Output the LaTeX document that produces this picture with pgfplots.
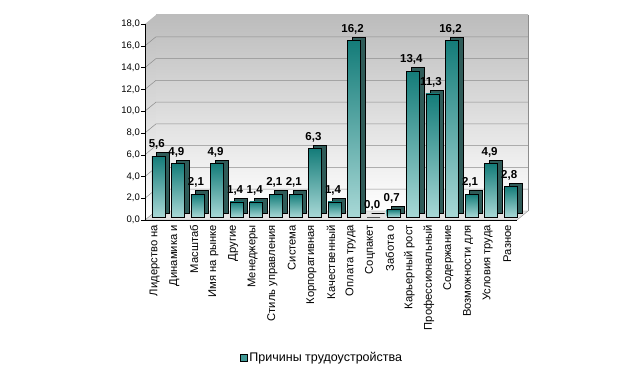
\documentclass[border=0pt]{standalone}
\usepackage{fontspec}
\setmainfont{Liberation Sans}
\usepackage{pgfplots}
\pgfplotsset{compat=1.18}
\definecolor{facetop}{HTML}{147C79}
\definecolor{facebot}{HTML}{A8D8D6}
\definecolor{side}{HTML}{2F5B58}
\definecolor{walltop}{HTML}{BCBCBC}
\definecolor{gridc}{HTML}{8C8C8C}
\definecolor{floorc}{HTML}{E4E4E4}
\begin{document}
\begin{tikzpicture}
\useasboundingbox (0,0) rectangle (643pt,377pt);
\begin{axis}[
  at={(145pt,157pt)}, anchor=south west,
  scale only axis, width=372pt, height=196pt,
  xmin=-0.5, xmax=18.5, ymin=0, ymax=18,
  axis on top,
  axis x line*=bottom, axis y line*=left,
  axis line style={black, line width=0.6pt},
  xtick={0,...,18},
  xticklabels={Лидерство на,Динамика и,Масштаб,Имя на рынке,Другие,Менеджеры,Стиль управления,Система,Корпоративная,Качественный,Оплата труда,Соцпакет,Забота о,Карьерный рост,Профессиональный,Содержание,Возможности для,Условия труда,Разное},
  x tick label style={rotate=90, anchor=east, font=\fontsize{11.2}{12}\selectfont, inner sep=1pt},
  xtick style={draw=none},
  minor xtick={-0.5,0.5,...,18.5},
  minor x tick style={black},
  minor tick length=4pt,
  ytick={0,2,...,18},
  y tick label style={font=\fontsize{9.5}{10}\selectfont, inner sep=1pt},
  ytick style={black},
  major tick length=4pt,
  tick align=outside,
  /pgf/number format/fixed, /pgf/number format/fixed zerofill,
  /pgf/number format/precision=1, /pgf/number format/use comma,
  /pgf/number format/assume math mode=true,
  legend style={at={(0.476,-0.704)}, anchor=center, draw=none, fill=none, font=\fontsize{12.5}{13}\selectfont},
  legend image code/.code={\draw[black, fill=facetop!70!facebot] (0pt,-3.5pt) rectangle (7pt,3.5pt);},
  clip=false,
]
% walls
\shade[top color=walltop, bottom color=white]
  (axis cs:-0.5,0) -- (axis cs:-0.5,18) -- ([shift={(11pt,9pt)}]axis cs:-0.5,18) -- ([shift={(11pt,9pt)}]axis cs:-0.5,0) -- cycle;
\shade[top color=walltop, bottom color=white]
  ([shift={(11pt,9pt)}]axis cs:-0.5,0) rectangle ([shift={(11pt,9pt)}]axis cs:18.5,18);
\filldraw[fill=floorc, draw=gridc, line width=0.4pt]
  (axis cs:-0.5,0) -- (axis cs:18.5,0) -- ([shift={(11pt,9pt)}]axis cs:18.5,0) -- ([shift={(11pt,9pt)}]axis cs:-0.5,0) -- cycle;
\draw[gridc, line width=0.4pt] ([shift={(11pt,9pt)}]axis cs:18.5,0) -- ([shift={(11pt,9pt)}]axis cs:18.5,18);
\pgfplotsinvokeforeach{2,4,...,16}{
  \draw[gridc, line width=0.5pt] (axis cs:-0.5,#1) -- ([shift={(11pt,9pt)}]axis cs:-0.5,#1) -- ([shift={(11pt,9pt)}]axis cs:18.5,#1);
}
% bars: one plot per bar so each bar gets its own gradient
\foreach \x/\y in {0/5.6, 1/4.9, 2/2.1, 3/4.9, 4/1.4, 5/1.4, 6/2.1, 7/2.1, 8/6.3, 9/1.4, 10/16.2, 11/0.0, 12/0.7, 13/13.4, 14/11.3, 15/16.2, 16/2.1, 17/4.9, 18/2.8} {
  \edef\tmp{\noexpand\addplot[ybar, bar width=13pt, bar shift=8pt, yshift=6.5pt, fill=side, draw=black, line width=0.4pt, forget plot] coordinates {(\x,\y)};
  \noexpand\addplot[ybar, bar width=13pt, bar shift=3.5pt, yshift=3pt, top color=facetop, bottom color=facebot, draw=black, line width=0.4pt, forget plot,
    nodes near coords,
    every node near coord/.append style={font=\noexpand\bfseries\noexpand\fontsize{11.5}{12}\noexpand\selectfont, black, xshift=2pt, yshift=3pt}] coordinates {(\x,\y)};}
  \tmp
}
\addlegendimage{black}
\addlegendentry{Причины трудоустройства}
\end{axis}
\end{tikzpicture}
\end{document}
